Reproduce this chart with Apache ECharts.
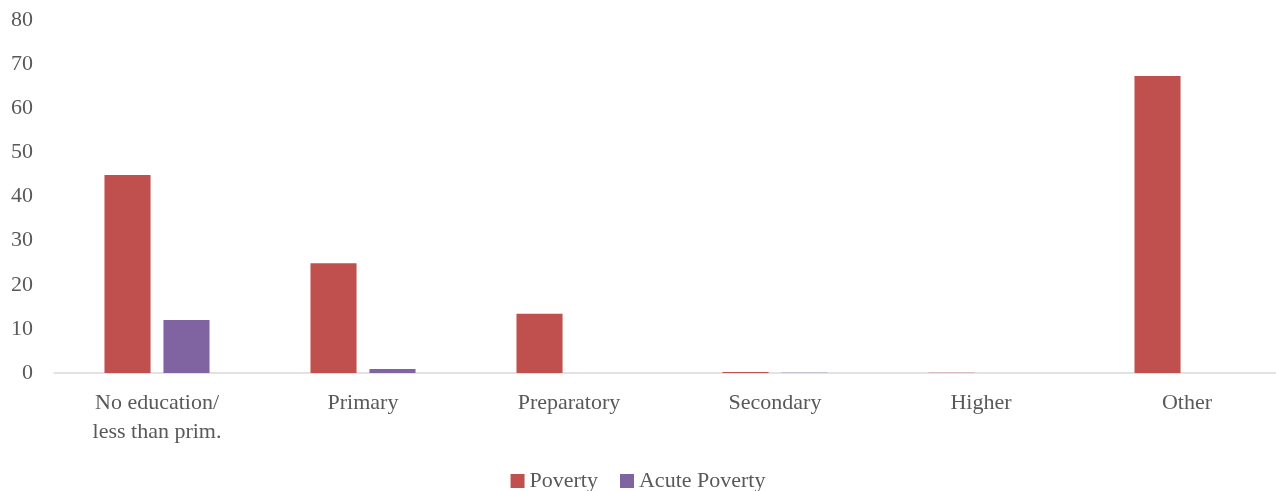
<!DOCTYPE html>
<html>
<head>
<meta charset="utf-8">
<script src="https://cdn.jsdelivr.net/npm/echarts@6/dist/echarts.min.js"></script>
<style>
  html, body { margin: 0; padding: 0; background: #fff; }
  #chart { width: 1276px; height: 491px; }
</style>
</head>
<body>
<div id="chart"></div>
<script>
// Education level categories
const categories = ['No education/\nless than prim.', 'Primary', 'Preparatory', 'Secondary', 'Higher', 'Other'];
// Share (%) by education level
const poverty = [44.9, 24.9, 13.4, 0.2, 0.06, 67.3];
const acutePoverty = [12.0, 0.9, 0, 0.05, 0, 0];
const yTicks = [0, 10, 20, 30, 40, 50, 60, 70, 80];

const fontFamily = '"Liberation Serif", "DejaVu Serif", serif';
const textColor = '#595959';

const chart = echarts.init(document.getElementById('chart'));
chart.setOption({
  animation: false,
  textStyle: { fontFamily: fontFamily },
  grid: { left: 54, width: 1236, top: 20, height: 353, containLabel: false, outerBoundsMode: 'none' },
  legend: {
    top: 465,
    left: 'center',
    itemWidth: 14,
    itemHeight: 14,
    itemGap: 22,
    icon: 'rect',
    textStyle: { fontFamily: fontFamily, fontSize: 22, color: textColor },
    data: ['Poverty', 'Acute Poverty']
  },
  xAxis: {
    type: 'category',
    data: categories,
    axisLine: { lineStyle: { color: '#d9d9d9', width: 1.5 } },
    axisTick: { show: false },
    axisLabel: { fontFamily: fontFamily, fontSize: 22, color: textColor, margin: 16, lineHeight: 29, interval: 0 }
  },
  yAxis: {
    type: 'value',
    min: yTicks[0],
    max: yTicks[yTicks.length - 1],
    interval: 10,
    axisLine: { show: false },
    axisTick: { show: false },
    splitLine: { show: false },
    axisLabel: { fontFamily: fontFamily, fontSize: 22, color: textColor, margin: 21 }
  },
  series: [
    {
      name: 'Poverty',
      type: 'bar',
      data: poverty,
      itemStyle: { color: '#c0504d' },
      barGap: '28%',
      barCategoryGap: '49%'
    },
    {
      name: 'Acute Poverty',
      type: 'bar',
      data: acutePoverty,
      itemStyle: { color: '#8064a2' }
    }
  ]
});
</script>
</body>
</html>
